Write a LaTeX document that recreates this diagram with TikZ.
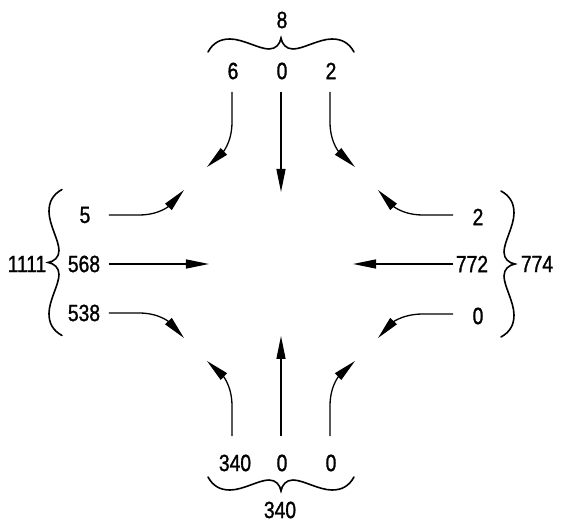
\documentclass[tikz,border=0pt]{standalone}
\usepackage{fontspec}
\setmainfont[FakeBold=1.2,FakeStretch=0.82]{Liberation Sans}
\usetikzlibrary{arrows.meta}
\begin{document}
\begin{tikzpicture}[x=1pt,y=1pt,
  lbl/.style={font=\fontsize{23.5}{24}\selectfont, inner sep=0pt},
  arr/.style={line width=1.3pt, -{Triangle[length=23pt,width=9pt]}},
  brc/.style={line width=1.6pt, line cap=round},
  mybrace/.pic={\draw[brc] (-73,0) .. controls (-68,9) and (-61,13) .. (-51,13)
     .. controls (-38,13) and (-22,3) .. (-12,3)
     .. controls (-5,3) and (-1,8) .. (0,14)
     .. controls (1,8) and (5,3) .. (12,3)
     .. controls (22,3) and (38,13) .. (51,13)
     .. controls (61,13) and (68,9) .. (73,0);}]
\useasboundingbox (-281,-265) rectangle (283,264);
% labels
\node[lbl] (top)  at (1,244) {8};
\node[lbl] (t6)   at (-48,193) {6};
\node[lbl] (t0)   at (1,193) {0};
\node[lbl] (t2)   at (50,193) {2};
\node[lbl] (b340) at (-46,-199) {340};
\node[lbl] (b0a)  at (1,-199) {0};
\node[lbl] (b0b)  at (50,-199) {0};
\node[lbl] (bot)  at (-1,-246) {340};
\node[lbl] (lsum) at (-254,0) {1111};
\node[lbl] (l5)   at (-196,49) {5};
\node[lbl] (l568) at (-197,0) {568};
\node[lbl] (l538) at (-197,-49) {538};
\node[lbl] (r2)   at (197,47) {2};
\node[lbl] (r772) at (191,0) {772};
\node[lbl] (r0)   at (197,-52) {0};
\node[lbl] (rsum) at (256,0) {774};
% braces
\pic at (0,212) {mybrace};
\pic[rotate=180] at (0,-213) {mybrace};
\pic[rotate=90] at (-219,1.5) {mybrace};
\pic[rotate=-90] at (220,0) {mybrace};
% top arm
\coordinate (a1s) at (-49,172); \coordinate (a1m) at (-49,142); \coordinate (a1e) at (-74,97);
\coordinate (a2s) at (0,172);   \coordinate (a2e) at (0,72);
\coordinate (a3s) at (49,172);  \coordinate (a3m) at (49,142);  \coordinate (a3e) at (74,97);
\draw[arr] (a1s) -- (a1m) .. controls (-49,119) and (-61,109) .. (a1e);
\draw[arr] (a2s) -- (a2e);
\draw[arr] (a3s) -- (a3m) .. controls (49,119) and (61,109) .. (a3e);
% left arm
\coordinate (l1s) at (-172,49); \coordinate (l1m) at (-142,49); \coordinate (l1e) at (-97,74);
\coordinate (l2s) at (-172,0);  \coordinate (l2e) at (-72,0);
\coordinate (l3s) at (-172,-49); \coordinate (l3m) at (-142,-49); \coordinate (l3e) at (-97,-74);
\draw[arr] (l1s) -- (l1m) .. controls (-119,49) and (-109,61) .. (l1e);
\draw[arr] (l2s) -- (l2e);
\draw[arr] (l3s) -- (l3m) .. controls (-119,-49) and (-109,-61) .. (l3e);
% right arm
\coordinate (r1s) at (172,49); \coordinate (r1m) at (142,49); \coordinate (r1e) at (97,74);
\coordinate (r2s) at (172,0);  \coordinate (r2e) at (72,0);
\coordinate (r3s) at (172,-50); \coordinate (r3m) at (142,-50); \coordinate (r3e) at (97,-74);
\draw[arr] (r1s) -- (r1m) .. controls (119,49) and (109,61) .. (r1e);
\draw[arr] (r2s) -- (r2e);
\draw[arr] (r3s) -- (r3m) .. controls (119,-50) and (109,-61) .. (r3e);
% bottom arm
\coordinate (b1s) at (-49,-172); \coordinate (b1m) at (-49,-142); \coordinate (b1e) at (-74,-97);
\coordinate (b2s) at (0,-172);   \coordinate (b2e) at (0,-72);
\coordinate (b3s) at (49,-172);  \coordinate (b3m) at (49,-142);  \coordinate (b3e) at (74,-97);
\draw[arr] (b1s) -- (b1m) .. controls (-49,-119) and (-61,-109) .. (b1e);
\draw[arr] (b2s) -- (b2e);
\draw[arr] (b3s) -- (b3m) .. controls (49,-119) and (61,-109) .. (b3e);
\end{tikzpicture}
\end{document}
